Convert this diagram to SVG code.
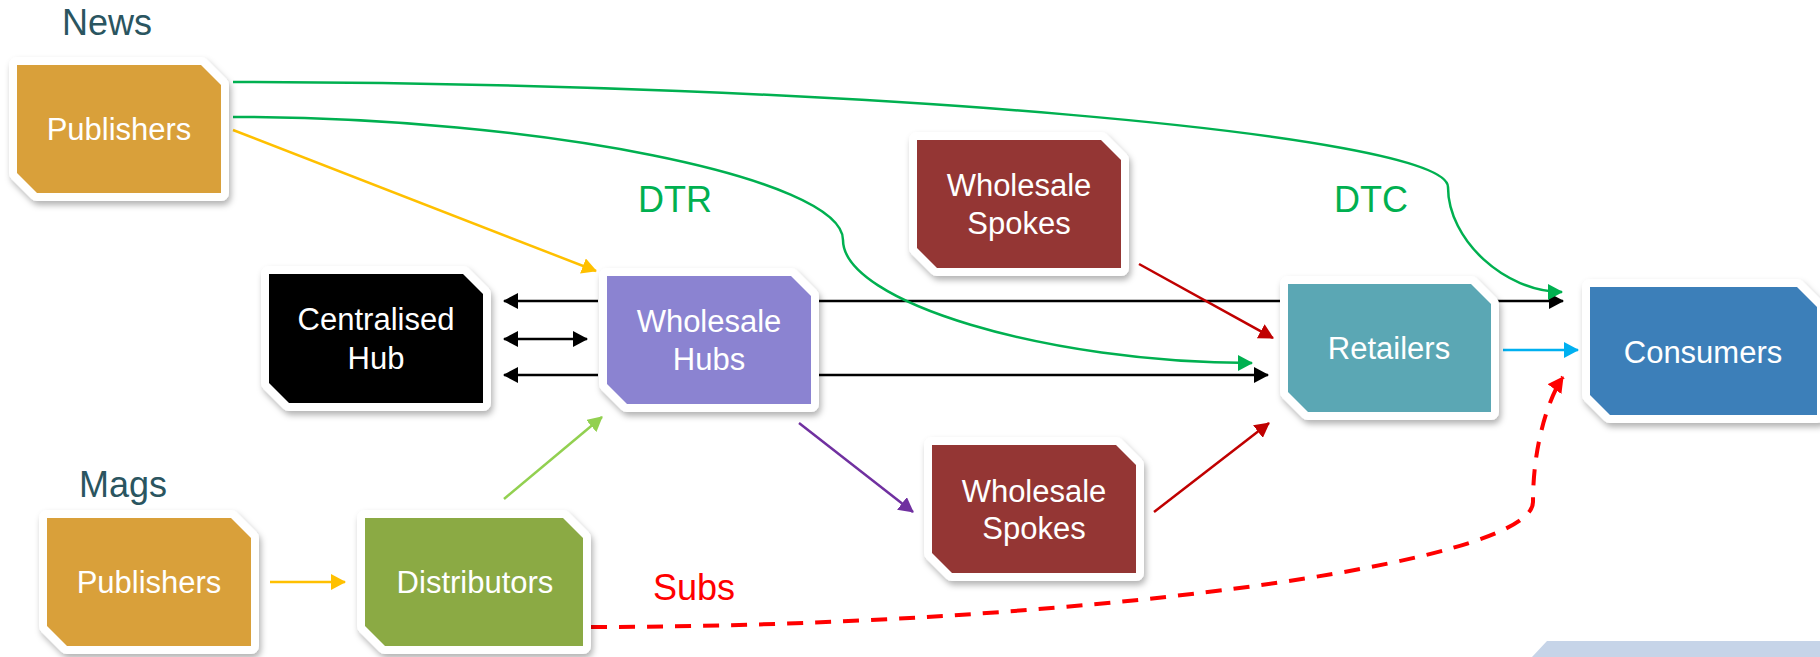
<svg xmlns="http://www.w3.org/2000/svg" width="1820" height="657" viewBox="0 0 1820 657">
  <style>
    .frame { fill: #ffffff; stroke: #ffffff; stroke-width: 16; stroke-linejoin: round; filter: url(#shadow); }
    .lbl { font-family: "Liberation Sans", Arial, sans-serif; font-size: 31px; fill: #ffffff; text-anchor: middle; }
    .head { font-family: "Liberation Sans", Arial, sans-serif; font-size: 36px; fill: #2A5560; }
    .tag { font-family: "Liberation Sans", Arial, sans-serif; font-size: 36px; }
    .ln { fill: none; stroke-width: 2.5; }
  </style>
  <defs>
    <filter id="shadow" x="-10%" y="-10%" width="125%" height="130%">
      <feDropShadow dx="2" dy="4" stdDeviation="3" flood-color="#000000" flood-opacity="0.3"/>
    </filter>
    <marker id="aBlack" markerUnits="userSpaceOnUse" viewBox="0 0 15 16" refX="14" refY="8" markerWidth="15" markerHeight="16" orient="auto-start-reverse"><path d="M0,0 L15,8 L0,16 Z" fill="#000000"/></marker>
    <marker id="aGreen" markerUnits="userSpaceOnUse" viewBox="0 0 15 16" refX="14" refY="8" markerWidth="15" markerHeight="16" orient="auto"><path d="M0,0 L15,8 L0,16 Z" fill="#00B050"/></marker>
    <marker id="aYellow" markerUnits="userSpaceOnUse" viewBox="0 0 15 16" refX="14" refY="8" markerWidth="15" markerHeight="16" orient="auto"><path d="M0,0 L15,8 L0,16 Z" fill="#FFC000"/></marker>
    <marker id="aLime" markerUnits="userSpaceOnUse" viewBox="0 0 15 16" refX="14" refY="8" markerWidth="15" markerHeight="16" orient="auto"><path d="M0,0 L15,8 L0,16 Z" fill="#92D050"/></marker>
    <marker id="aPurple" markerUnits="userSpaceOnUse" viewBox="0 0 15 16" refX="14" refY="8" markerWidth="15" markerHeight="16" orient="auto"><path d="M0,0 L15,8 L0,16 Z" fill="#7030A0"/></marker>
    <marker id="aDark" markerUnits="userSpaceOnUse" viewBox="0 0 15 16" refX="14" refY="8" markerWidth="15" markerHeight="16" orient="auto"><path d="M0,0 L15,8 L0,16 Z" fill="#C00000"/></marker>
    <marker id="aCyan" markerUnits="userSpaceOnUse" viewBox="0 0 15 16" refX="14" refY="8" markerWidth="15" markerHeight="16" orient="auto"><path d="M0,0 L15,8 L0,16 Z" fill="#00B0F0"/></marker>
    <marker id="aRed" markerUnits="userSpaceOnUse" viewBox="0 0 15 16" refX="14" refY="8" markerWidth="16" markerHeight="17" orient="auto"><path d="M0,0 L15,8 L0,16 Z" fill="#FF0000"/></marker>
  </defs>

  <rect width="1820" height="657" fill="#ffffff"/>
  <!-- corner band -->
  <polygon points="1547,641 1820,641 1820,657 1532,657" fill="#C6D4E8"/>

  <!-- section and channel labels -->
  <text class="head" x="62" y="35">News</text>
  <text class="head" x="79" y="497">Mags</text>
  <text class="tag" x="638" y="212" fill="#00B050">DTR</text>
  <text class="tag" x="1334" y="212" fill="#00B050">DTC</text>
  <text class="tag" x="653" y="600" fill="#FF0000">Subs</text>

  <g id="connectors">
    <!-- hub exchanges -->
    <path class="ln" stroke="#000000" d="M598,301 L504,301" marker-end="url(#aBlack)"/>
    <path class="ln" stroke="#000000" d="M504,339 L587,339" marker-start="url(#aBlack)" marker-end="url(#aBlack)"/>
    <path class="ln" stroke="#000000" d="M598,375 L504,375" marker-end="url(#aBlack)"/>
    <path class="ln" stroke="#000000" d="M819,301 L1563,301" marker-end="url(#aBlack)"/>
    <path class="ln" stroke="#000000" d="M819,375 L1268,375" marker-end="url(#aBlack)"/>
    <!-- direct routes -->
    <path class="ln" stroke="#00B050" d="M233,82 C840,82 1448,134 1448,187 C1448,240 1505,292 1562,292" marker-end="url(#aGreen)"/>
    <path class="ln" stroke="#00B050" d="M233,117 C538,117 843,178 843,240 C843,302 1047,363 1252,363" marker-end="url(#aGreen)"/>
    <!-- supply -->
    <path class="ln" stroke="#FFC000" d="M233,130 L596,271" marker-end="url(#aYellow)"/>
    <path class="ln" stroke="#FFC000" d="M270,582 L345,582" marker-end="url(#aYellow)"/>
    <path class="ln" stroke="#92D050" d="M504,499 L602,417" marker-end="url(#aLime)"/>
    <path class="ln" stroke="#7030A0" d="M799,423 L913,512" marker-end="url(#aPurple)"/>
    <path class="ln" stroke="#C00000" d="M1139,264 L1273,338" marker-end="url(#aDark)"/>
    <path class="ln" stroke="#C00000" d="M1154,512 L1269,423" marker-end="url(#aDark)"/>
    <path class="ln" stroke="#00B0F0" d="M1503,350 L1578,350" marker-end="url(#aCyan)"/>
    <!-- subscriptions -->
    <path fill="none" stroke="#FF0000" stroke-width="4" stroke-dasharray="16 12" d="M591,627 C1062,627 1533,565 1533,502 C1533,440 1551,394 1563,377" marker-end="url(#aRed)"/>
  </g>

  <g id="news-publishers">
    <path class="frame" d="M17,65 H201 L221,85 V193 H37 L17,173 Z"/>
    <path fill="#D9A03A" d="M17,65 H201 L221,85 V193 H37 L17,173 Z"/>
    <text class="lbl" x="119" y="140">Publishers</text>
  </g>

  <g id="centralised-hub">
    <path class="frame" d="M269,274 H463 L483,294 V403 H289 L269,383 Z"/>
    <path fill="#000000" d="M269,274 H463 L483,294 V403 H289 L269,383 Z"/>
    <text class="lbl" x="376" y="330">Centralised</text>
    <text class="lbl" x="376" y="369">Hub</text>
  </g>

  <g id="wholesale-hubs">
    <path class="frame" d="M607,276 H791 L811,296 V404 H627 L607,384 Z"/>
    <path fill="#8B83D1" d="M607,276 H791 L811,296 V404 H627 L607,384 Z"/>
    <text class="lbl" x="709" y="332">Wholesale</text>
    <text class="lbl" x="709" y="370">Hubs</text>
  </g>

  <g id="wholesale-spokes-upper">
    <path class="frame" d="M917,140 H1101 L1121,160 V268 H937 L917,248 Z"/>
    <path fill="#943634" d="M917,140 H1101 L1121,160 V268 H937 L917,248 Z"/>
    <text class="lbl" x="1019" y="196">Wholesale</text>
    <text class="lbl" x="1019" y="234">Spokes</text>
  </g>

  <g id="wholesale-spokes-lower">
    <path class="frame" d="M932,445 H1116 L1136,465 V573 H952 L932,553 Z"/>
    <path fill="#943634" d="M932,445 H1116 L1136,465 V573 H952 L932,553 Z"/>
    <text class="lbl" x="1034" y="502">Wholesale</text>
    <text class="lbl" x="1034" y="539">Spokes</text>
  </g>

  <g id="retailers">
    <path class="frame" d="M1288,284 H1471 L1491,304 V412 H1308 L1288,392 Z"/>
    <path fill="#5BA7B4" d="M1288,284 H1471 L1491,304 V412 H1308 L1288,392 Z"/>
    <text class="lbl" x="1389" y="359">Retailers</text>
  </g>

  <g id="consumers">
    <path class="frame" d="M1590,287 H1797 L1817,307 V415 H1610 L1590,395 Z"/>
    <path fill="#3C7FB9" d="M1590,287 H1797 L1817,307 V415 H1610 L1590,395 Z"/>
    <text class="lbl" x="1703" y="363">Consumers</text>
  </g>

  <g id="mags-publishers">
    <path class="frame" d="M47,518 H231 L251,538 V646 H67 L47,626 Z"/>
    <path fill="#D9A03A" d="M47,518 H231 L251,538 V646 H67 L47,626 Z"/>
    <text class="lbl" x="149" y="593">Publishers</text>
  </g>

  <g id="distributors">
    <path class="frame" d="M365,518 H563 L583,538 V646 H385 L365,626 Z"/>
    <path fill="#8BAA44" d="M365,518 H563 L583,538 V646 H385 L365,626 Z"/>
    <text class="lbl" x="475" y="593">Distributors</text>
  </g>
</svg>
